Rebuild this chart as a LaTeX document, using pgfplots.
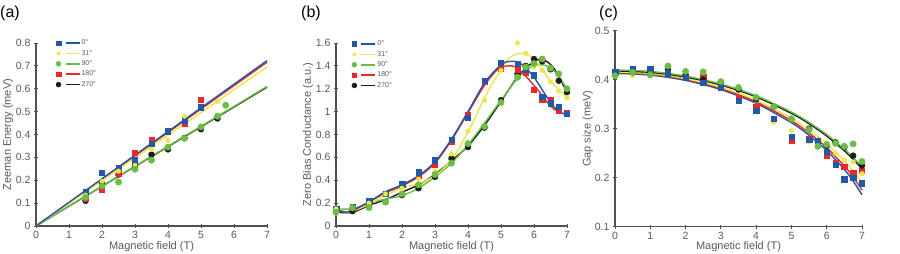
\documentclass[border=0pt]{standalone}
\usepackage{pgfplots}
\pgfplotsset{compat=1.18}
\usepackage{fontspec}
\setmainfont{Liberation Sans}
\definecolor{cblue}{HTML}{2358A6}
\definecolor{cyellow}{HTML}{EDE648}
\definecolor{cgreen}{HTML}{6ABD45}
\definecolor{cred}{HTML}{E8282A}
\definecolor{cblack}{HTML}{1C1C1C}
\definecolor{axgray}{HTML}{505050}
\definecolor{txtgray}{HTML}{5A5A5A}
\pgfplotsset{
 base/.style={
  scale only axis, axis lines=left,
  axis line style={-, draw=axgray, line width=1.1pt},
  tick style={draw=axgray, line width=0.9pt}, major tick length=4pt,
  tick label style={font=\fontsize{10.5}{12}\selectfont, text=txtgray},
  label style={font=\fontsize{11}{13}\selectfont, text=txtgray},
  /pgf/number format/assume math mode=true,
  yticklabel style={/pgf/number format/fixed, /pgf/number format/precision=1},
  xmin=0, xmax=7, xtick={0,...,7},
  clip=false,
  xlabel={Magnetic field (T)},
  legend cell align=left,
  legend style={draw=none, fill=none, anchor=north west, font=\fontsize{7}{8}\selectfont, text=txtgray, inner sep=0pt, row sep=1.6pt, nodes={inner sep=1.2pt}},
 },
 mb/.style={only marks, mark=square*, mark size=2.7pt, color=cblue, forget plot},
 mr/.style={only marks, mark=square*, mark size=2.7pt, color=cred, forget plot},
 my/.style={only marks, mark=*, mark size=2.3pt, color=cyellow, forget plot},
 mg/.style={only marks, mark=*, mark size=3.2pt, color=cgreen, forget plot},
 mk/.style={only marks, mark=*, mark size=3.0pt, color=cblack, forget plot},
 ln/.style={no marks, line width=1.4pt, color=#1, forget plot},
}
\newcommand{\mylegend}{%
 \addlegendimage{legend image code/.code={\fill[cblue] (-2.3pt,-2.3pt) rectangle (2.3pt,2.3pt); \draw[cblue,line width=1.6pt] (7pt,0pt)--(21pt,0pt);}}\addlegendentry{0°}
 \addlegendimage{legend image code/.code={\fill[cyellow] (0pt,0pt) circle (1.9pt); \draw[cyellow,line width=1.6pt] (7pt,0pt)--(21pt,0pt);}}\addlegendentry{31°}
 \addlegendimage{legend image code/.code={\fill[cgreen] (0pt,0pt) circle (2.5pt); \draw[cgreen,line width=1.6pt] (7pt,0pt)--(21pt,0pt);}}\addlegendentry{90°}
 \addlegendimage{legend image code/.code={\fill[cred] (-2.3pt,-2.3pt) rectangle (2.3pt,2.3pt); \draw[cred,line width=1.6pt] (7pt,0pt)--(21pt,0pt);}}\addlegendentry{180°}
 \addlegendimage{legend image code/.code={\fill[cblack] (0pt,0pt) circle (2.5pt); \draw[cblack,line width=1.6pt] (7pt,0pt)--(21pt,0pt);}}\addlegendentry{270°}
}
\begin{document}
\begin{tikzpicture}[x=1pt,y=1pt]
\path[use as bounding box] (0,0) rectangle (900,254);
\node[font=\fontsize{16}{18}\selectfont, anchor=base west, inner sep=0pt] at (0,236) {(a)};
\node[font=\fontsize{16}{18}\selectfont, anchor=base west, inner sep=0pt] at (301,236) {(b)};
\node[font=\fontsize{16}{18}\selectfont, anchor=base west, inner sep=0pt] at (599,236) {(c)};

% ---------------- (a)
\begin{axis}[base, at={(36pt,28pt)}, anchor=south west, width=231pt, height=183pt,
  ymin=0, ymax=0.8, ytick={0,0.1,...,0.8},
  ylabel={Zeeman Energy (meV)},
  ylabel style={at={(axis description cs:-0.121,0.5)}, anchor=center},
  xlabel style={at={(axis description cs:0.5,-0.115)}, anchor=center},
  legend style={at={(axis description cs:0.085,1.025)}}]
\addplot[mk] coordinates {(1.5,0.11) (2,0.185) (2.5,0.225) (3,0.265) (3.5,0.312) (4,0.335) (4.5,0.385) (5,0.423) (5.5,0.47)};
\addplot[mr] coordinates {(1.5,0.12) (2,0.16) (2.5,0.23) (3,0.32) (3.5,0.375) (4,0.415) (4.5,0.45) (5,0.552)};
\addplot[mb] coordinates {(1.5,0.15) (2,0.232) (2.5,0.255) (3,0.288) (3.5,0.36) (4,0.415) (4.5,0.463) (5,0.52)};
\addplot[my] coordinates {(1.5,0.135) (2,0.195) (2.5,0.24) (3,0.265) (3.5,0.335) (4,0.375) (4.5,0.48) (5.5,0.545)};
\addplot[mg] coordinates {(1.5,0.125) (2,0.175) (2.5,0.192) (3,0.248) (3.5,0.288) (4,0.345) (4.5,0.383) (5,0.433) (5.5,0.48) (5.75,0.528)};
\addplot[ln=cred] coordinates {(0,0) (7,0.716)};
\addplot[ln=cblack] coordinates {(0,0) (7,0.607)};
\addplot[ln=cgreen] coordinates {(0,0) (7,0.61)};
\addplot[ln=cyellow] coordinates {(0,0) (7,0.695)};
\addplot[ln=cblue] coordinates {(0,0) (7,0.723)};
\mylegend
\end{axis}

% ---------------- (b)
\begin{axis}[base, at={(336pt,28pt)}, anchor=south west, width=231pt, height=183pt,
  ymin=0, ymax=1.6, ytick={0,0.2,...,1.6},
  ylabel={Zero Bias Conductance (a.u.)},
  ylabel style={at={(axis description cs:-0.121,0.5)}, anchor=center},
  xlabel style={at={(axis description cs:0.5,-0.115)}, anchor=center},
  legend style={at={(axis description cs:0.067,1.02)}}]
\addplot[mk] coordinates {(0,0.13) (0.5,0.13) (1,0.17) (1.5,0.21) (2,0.27) (2.5,0.33) (3,0.43) (3.5,0.59) (4,0.69) (4.5,0.86) (5,1.1) (5.5,1.33) (5.75,1.4) (6,1.46) (6.25,1.44) (6.5,1.37) (6.75,1.27) (7,1.17)};
\addplot[mr] coordinates {(0,0.14) (0.5,0.16) (1,0.21) (1.5,0.28) (2,0.36) (2.5,0.44) (3,0.54) (3.5,0.74) (4,0.97) (4.5,1.26) (5,1.38) (5.5,1.37) (5.75,1.34) (6,1.19) (6.25,1.11) (6.5,1.1) (6.75,1.01) (7,0.99)};
\addplot[mb] coordinates {(0,0.15) (0.5,0.17) (1,0.22) (1.5,0.28) (2,0.37) (2.5,0.47) (3,0.575) (3.5,0.755) (4,0.945) (4.5,1.27) (5,1.43) (5.5,1.42) (5.75,1.37) (6,1.32) (6.25,1.13) (6.5,1.075) (6.75,1.045) (7,0.98)};
\addplot[my] coordinates {(0,0.15) (0.5,0.16) (1,0.2) (1.5,0.28) (2,0.33) (2.5,0.41) (3,0.48) (3.5,0.63) (4,0.83) (4.5,1.1) (5,1.36) (5.5,1.6) (5.75,1.51) (6,1.39) (6.25,1.36) (6.5,1.26) (6.75,1.18) (7,1.12)};
\addplot[mg] coordinates {(0,0.12) (0.5,0.16) (1,0.16) (1.5,0.21) (2,0.28) (2.5,0.36) (3,0.45) (3.5,0.55) (4,0.72) (4.5,0.87) (5,1.08) (5.5,1.3) (5.75,1.39) (6,1.42) (6.25,1.46) (6.5,1.38) (6.75,1.33) (7,1.2)};
\addplot[ln=cblack, smooth] coordinates {(0,0.12) (0.5,0.12) (1,0.18) (1.5,0.23) (2,0.295) (2.5,0.36) (3,0.45) (3.5,0.57) (4,0.7) (4.5,0.88) (5,1.09) (5.5,1.3) (6,1.44) (6.3,1.45) (6.6,1.38) (7,1.17)};
\addplot[ln=cgreen, smooth] coordinates {(0,0.15) (0.5,0.15) (1,0.2) (1.5,0.235) (2,0.265) (2.5,0.33) (3,0.43) (3.5,0.55) (4,0.71) (4.5,0.9) (5,1.1) (5.5,1.29) (5.9,1.39) (6.25,1.41) (6.6,1.36) (7,1.2)};
\addplot[ln=cyellow, smooth] coordinates {(0,0.17) (0.3,0.12) (0.6,0.14) (1,0.19) (1.5,0.27) (2,0.33) (2.5,0.37) (3,0.44) (3.5,0.58) (4,0.82) (4.5,1.12) (5,1.37) (5.3,1.48) (5.65,1.51) (6,1.46) (6.5,1.27) (7,1.12)};
\addplot[ln=cred, smooth] coordinates {(0,0.14) (0.3,0.12) (0.6,0.15) (1,0.21) (1.5,0.29) (2,0.35) (2.5,0.43) (3,0.55) (3.5,0.75) (4,0.99) (4.5,1.23) (4.9,1.37) (5.2,1.4) (5.5,1.38) (6,1.23) (6.5,1.05) (6.8,0.99) (7,0.98)};
\addplot[ln=cblue, smooth] coordinates {(0,0.15) (0.3,0.12) (0.6,0.15) (1,0.21) (1.5,0.3) (2,0.36) (2.5,0.44) (3,0.56) (3.5,0.76) (4,1.0) (4.5,1.25) (5,1.41) (5.3,1.44) (5.6,1.42) (6,1.3) (6.5,1.08) (6.8,0.99) (7,0.98)};
\mylegend
\end{axis}

% ---------------- (c)
\begin{axis}[base, at={(615pt,27.3pt)}, anchor=south west, width=247pt, height=196pt,
  ymin=0.1, ymax=0.5, ytick={0.1,0.2,0.3,0.4,0.5},
  ylabel={Gap size (meV)},
  ylabel style={at={(axis description cs:-0.11,0.5)}, anchor=center},
  xlabel style={at={(axis description cs:0.5,-0.104)}, anchor=center}]
\addplot[mr] coordinates {(0,0.415) (0.5,0.42) (1,0.418) (1.5,0.42) (2,0.405) (2.5,0.405) (3,0.39) (3.5,0.362) (4,0.345) (4.5,0.32) (5,0.276) (5.5,0.28) (5.75,0.275) (6,0.245) (6.25,0.23) (6.5,0.222) (6.75,0.21) (7,0.214)};
\addplot[my] coordinates {(0,0.41) (0.5,0.408) (1,0.41) (1.5,0.415) (2,0.412) (2.5,0.4) (3,0.395) (3.5,0.385) (4,0.357) (4.5,0.313) (5,0.296) (5.5,0.273) (5.75,0.27) (6,0.26) (6.25,0.25) (6.5,0.236) (6.75,0.232) (7,0.208)};
\addplot[mk] coordinates {(0,0.415) (0.5,0.415) (1,0.415) (1.5,0.422) (2,0.41) (2.5,0.4) (3,0.395) (3.5,0.38) (4,0.36) (4.5,0.345) (5,0.32) (5.5,0.3) (5.75,0.275) (6,0.265) (6.25,0.272) (6.5,0.262) (6.75,0.245) (7,0.225)};
\addplot[mb] coordinates {(0,0.416) (0.5,0.423) (1,0.423) (1.5,0.413) (2,0.404) (2.5,0.394) (3,0.384) (3.5,0.357) (4,0.337) (4.5,0.321) (5,0.284) (5.5,0.277) (5.75,0.275) (6,0.253) (6.25,0.226) (6.5,0.197) (6.75,0.2) (7,0.189)};
\addplot[mg] coordinates {(0,0.408) (0.5,0.415) (1,0.41) (1.5,0.428) (2,0.417) (2.5,0.416) (3,0.396) (3.5,0.384) (4,0.364) (4.5,0.345) (5,0.32) (5.5,0.298) (5.75,0.264) (6,0.268) (6.25,0.27) (6.5,0.264) (6.75,0.269) (7,0.233)};
\addplot[ln=cblue, smooth] coordinates {(0,0.413) (1,0.4094) (2,0.3986) (3,0.3798) (4,0.3518) (5,0.3122) (5.5,0.2865) (6,0.2555) (6.5,0.2167) (6.75,0.1931) (7,0.165)};
\addplot[ln=cred, smooth] coordinates {(0,0.415) (1,0.4115) (2,0.4008) (3,0.3824) (4,0.3549) (5,0.3162) (5.5,0.2912) (6,0.2612) (6.5,0.2239) (6.75,0.2014) (7,0.175)};
\addplot[ln=cyellow, smooth] coordinates {(0,0.416) (1,0.4126) (2,0.4023) (3,0.3846) (4,0.3582) (5,0.3212) (5.5,0.2975) (6,0.2691) (6.5,0.2345) (6.75,0.2138) (7,0.19)};
\addplot[ln=cblack, smooth] coordinates {(0,0.418) (1,0.4149) (2,0.4054) (3,0.3891) (4,0.365) (5,0.3314) (5.5,0.3102) (6,0.2851) (6.5,0.2551) (6.75,0.2376) (7,0.218)};
\addplot[ln=cgreen, smooth] coordinates {(0,0.42) (1,0.4169) (2,0.4075) (3,0.3912) (4,0.3673) (5,0.334) (5.5,0.3129) (6,0.2881) (6.5,0.2585) (6.75,0.2413) (7,0.222)};
\end{axis}
\end{tikzpicture}
\end{document}
